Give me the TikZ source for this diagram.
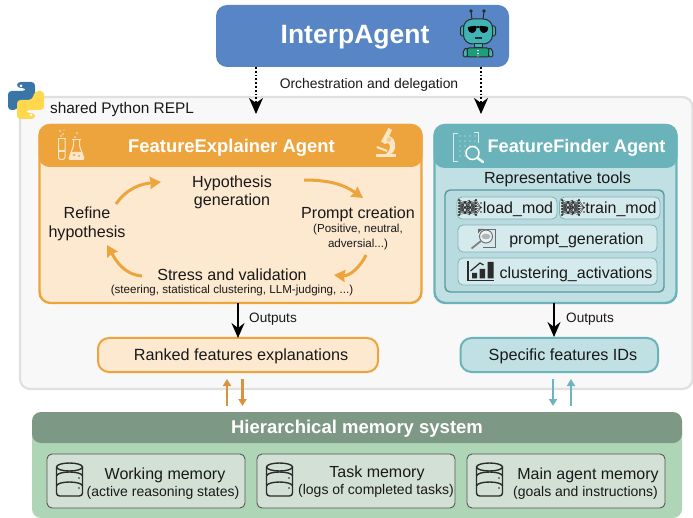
\documentclass[tikz,border=0pt]{standalone}
\usepackage{fontspec}
\setmainfont{Liberation Sans}
\usetikzlibrary{arrows.meta}
\definecolor{cblue}{HTML}{5885C5}
\definecolor{cpanel}{HTML}{F8F8F8}
\definecolor{cpanelb}{HTML}{E0E0E0}
\definecolor{corange}{HTML}{EEA43C}
\definecolor{corangel}{HTML}{FCE9D0}
\definecolor{cteal}{HTML}{6BB3BB}
\definecolor{ctealb}{HTML}{C0E0E3}
\definecolor{ctool}{HTML}{D5EAEC}
\definecolor{ctoolb}{HTML}{5B97A0}
\definecolor{cmemh}{HTML}{7D9885}
\definecolor{cmemb}{HTML}{AED6B6}
\definecolor{cmemi}{HTML}{D3E0D6}
\definecolor{cdark}{HTML}{2B2B2B}
\definecolor{ccream}{HTML}{FBE6C8}
\definecolor{cmarrowo}{HTML}{D9923E}
\definecolor{cmarrowt}{HTML}{6BB5C0}
\definecolor{crobot}{HTML}{3FB3B5}
\definecolor{crobotb}{HTML}{1E9E78}
\definecolor{cpyb}{HTML}{3A75A8}
\definecolor{cpyy}{HTML}{FFD84D}
\newcommand{\pbox}[7]{\pgfmathsetmacro\pw{#5-#3}\pgfmathsetmacro\ph{#6-#4}\node[#2,anchor=north west,inner sep=0pt,outer sep=0pt,minimum width=\pw pt,minimum height=\ph pt] (#1) at (#3,#4) {#7};}
\newcommand{\fsz}[1]{\fontsize{#1}{#1}\selectfont}
\newcommand{\dbicon}[2]{\begin{scope}[shift={(#1,#2)},draw=cdark,line width=1.4pt]
\draw (0,4) arc[x radius=13,y radius=4,start angle=180,end angle=-180];
\draw[rounded corners=3pt] (0,4) -- (0,33) -- (26,33) -- (26,4);
\draw (0,13) arc[x radius=13,y radius=4,start angle=180,end angle=360];
\draw (0,23) arc[x radius=13,y radius=4,start angle=180,end angle=360];
\fill[cdark] (22.5,15) circle (.9) (22.5,25) circle (.9) (22.5,33) circle (.01);
\end{scope}}
\newcommand{\nnicon}[2]{\begin{scope}[shift={(#1,#2)},line width=.3pt,draw=cdark]
\foreach \a in {2,7.5,13}{\foreach \b in {0,3,6,9,12,15}{\draw (1,\b) -- (7,\a) (12,\a) -- (18,\b);\draw (7,\a) -- (12,\b);}}
\foreach \b in {0,3,6,9,12,15}{\fill[cdark] (1,\b) circle (1.05) (18,\b) circle (1.05);\draw (18,\b) -- (23,7.5);}
\foreach \b in {3,7.5,12}{\fill[cdark] (23,\b) circle (.95);}
\foreach \a in {2,7.5,13}{\fill[cdark] (7,\a) circle (1.2) (12,\a) circle (1.2);}
\end{scope}}
\tikzset{
 x=1pt,y=-1pt,
 panel/.style={draw=cpanelb,fill=cpanel,line width=2.2pt,rounded corners=10pt},
 topbox/.style={fill=cblue,rounded corners=11pt},
 oouter/.style={draw=corange,fill=corangel,line width=2.4pt,rounded corners=11pt},
 ohead/.style={fill=corange,rounded corners=11pt},
 touter/.style={draw=cteal,fill=ctealb,line width=2.4pt,rounded corners=11pt},
 thead/.style={fill=cteal,rounded corners=11pt},
 toolsbox/.style={draw=ctoolb,fill=ctealb!90!cteal,line width=1.4pt,rounded corners=5pt},
 toolitem/.style={draw=ctoolb!75,fill=ctool,line width=.8pt,rounded corners=5pt},
 ooutput/.style={draw=corange,fill=corangel,line width=2pt,rounded corners=11pt},
 toutput/.style={draw=cteal,fill=ctealb,line width=2pt,rounded corners=11pt},
 memh/.style={fill=cmemh,rounded corners=9pt},
 memb/.style={fill=cmemb,rounded corners=9pt},
 memi/.style={draw=cdark!80,fill=cmemi,line width=.9pt,rounded corners=5pt},
 lbl/.style={inner sep=0pt,outer sep=0pt,text=black!90,align=center,yshift=-1.5pt},
 cyc/.style={line width=3pt,draw=corange,-{Stealth[length=11pt,width=12pt,inset=1pt]}},
 dotarrow/.style={line width=1.5pt,dash pattern=on 1.8pt off 2pt,-{Stealth[length=16pt,width=14pt,inset=5pt]}},
 outarrow/.style={line width=1.5pt,black,-{Stealth[length=15pt,width=13pt,inset=5pt]}},
 memo/.style={line width=2.2pt,draw=cmarrowo,-{Triangle[length=7pt,width=8pt]}},
 memt/.style={line width=2.2pt,draw=cmarrowt,-{Triangle[length=7pt,width=8pt]}},
}
\begin{document}
\begin{tikzpicture}
\useasboundingbox (0,0) rectangle (693,518);
% panel
\pbox{repl}{panel}{20}{97}{692.5}{389}{}
% top
\pbox{interp}{topbox}{216}{5}{509}{67}{}
\node[lbl,text=white,font=\bfseries\fsz{26.5}] (interpt) at (355,36) {InterpAgent};
% robot
\begin{scope}[draw=cdark,line width=1pt]
\draw (471,11) -- (472,20) (484,11) -- (483,20);
\fill[cdark] (471,11) circle (1.8) (484,11) circle (1.8);
\draw[fill=crobot,rounded corners=1.5pt] (460.5,26) rectangle (465,36) (491,26) rectangle (495.5,36);
\draw[fill=crobot,rounded corners=9pt] (463.5,19) rectangle (492.5,44);
\fill[black,rounded corners=2pt] (467,27) -- (476.5,25.5) -- (476,32) -- (470,33.5) -- cycle (489,27) -- (479.5,25.5) -- (480,32) -- (486,33.5) -- cycle (476,26) rectangle (480,28);
\fill[cdark] (474.5,37) rectangle (481.5,39);
\draw[fill=crobot] (474,44) rectangle (482,48);
\draw[fill=crobotb,rounded corners=2pt] (467,57) -- (467,48) -- (489,48) -- (489,57) -- cycle;
\draw[fill=crobot,rounded corners=1.5pt] (463,57) -- (463.5,50) -- (467,47.5) -- (467.5,57) -- cycle (493,57) -- (492.5,50) -- (489,47.5) -- (488.5,57) -- cycle;
\fill[white] (478,50.5) circle (.9) (478,53.5) circle (.9) (478,56) circle (.7);
\end{scope}
% orchestration
\node[lbl,font=\fsz{13.9}] (orch) at (369,83) {Orchestration and delegation};
\coordinate (d1) at (256,114);
\coordinate (d2) at (481,114);
\draw[dotarrow] (d1 |- interp.south) -- (d1);
\draw[dotarrow] (d2 |- interp.south) -- (d2);
% python logo
\begin{scope}[rounded corners=3.5pt]
\fill[cpyb] (17,82) -- (35,82) -- (35,101) -- (20,101) -- (17,110) -- (8,110) -- (8,91) -- (26,91) -- (26,88) -- (17,88) -- cycle;
\fill[cpyy,rotate around={180:(26,100.5)}] (17,82) -- (35,82) -- (35,101) -- (20,101) -- (17,110) -- (8,110) -- (8,91) -- (26,91) -- (26,88) -- (17,88) -- cycle;
\end{scope}
\fill[white] (21,86) circle (1.5) (31,115) circle (1.5);
\node[lbl,font=\fsz{15.4}] (repllabel) at (122,108) {shared Python REPL};
% explainer
\pbox{fe}{oouter}{39.5}{125}{421.5}{303}{}
\pbox{feh}{ohead}{38.5}{124}{422.5}{167}{}
\node[lbl,text=white,font=\bfseries\fsz{18.4}] (fet) at (231.5,146) {FeatureExplainer Agent};
% flasks
\begin{scope}[draw=ccream,line width=1pt]
\draw[rounded corners=2.5pt] (58.5,139) -- (58.5,159.5) -- (65,159.5) -- (65,139);
\fill[ccream] (59,150) rectangle (64.5,152);
\draw (57.5,139) -- (66,139);
\draw[rounded corners=1.5pt] (73.5,139.5) -- (73.5,146) -- (68.5,159.5) -- (84.5,159.5) -- (79.5,146) -- (79.5,139.5);
\draw (72,139.5) -- (81,139.5);
\fill[ccream] (71,152) -- (82,152) -- (84,159.5) -- (69,159.5) -- cycle;
\fill[corange] (74,155) circle (1.1) (79,156) circle (1);
\fill[ccream] (60,131) circle (.9) (63,134) circle (.9) (61,136) circle (.8) (77,133) circle (.9) (75,137) circle (.8) (64,130) circle (.7);
\end{scope}
% microscope
\begin{scope}[fill=ccream,draw=ccream]
\fill (388.5,128) -- (392,130) -- (389,136) .. controls (397,139) and (397,150) .. (391,154) -- (386,154) .. controls (391,150) and (391,145) .. (388,143) -- (385,144) -- (381,141.5) -- cycle;
\fill (375.5,154.5) rectangle (396,157.5);
\fill (377,146) -- (387.5,150) -- (387,152) -- (376.5,148) -- cycle;
\fill[ccream!60!corange] (389,139.5) circle (2.3);
\end{scope}
% cycle text
\node[lbl,font=\fsz{16.1},align=center] (hyp) at (232,191) {Hypothesis\\[2pt]generation};
\node[lbl,font=\fsz{16.1}] (pc) at (358,213) {Prompt creation};
\node[lbl,font=\fsz{11.6}] (pcs) at (358,235.5) {(Positive, neutral,\\[2.5pt]adversial...)};
\node[lbl,font=\fsz{16.1}] (ref) at (87,222.5) {Refine\\[2.5pt]hypothesis};
\node[lbl,font=\fsz{16.1}] (sv) at (232,273) {Stress and validation};
\node[lbl,font=\fsz{11.6}] (svs) at (232,289) {(steering, statistical clustering, LLM-judging, ...)};
\coordinate (c1a) at (116,204); \coordinate (c1b) at (161,182);
\coordinate (c2a) at (304,180); \coordinate (c2b) at (363,198);
\coordinate (c3a) at (366,255); \coordinate (c3b) at (334,275);
\coordinate (c4a) at (142,276); \coordinate (c4b) at (107,245);
\draw[cyc] (c1a) to[out=55,in=185] (c1b);
\draw[cyc] (c2a) to[out=0,in=145] (c2b);
\draw[cyc] (c3a) to[out=-115,in=-5] (c3b);
\draw[cyc] (c4a) to[out=175,in=-60] (c4b);
% finder
\pbox{ff}{touter}{434.5}{125}{676.5}{303}{}
\pbox{ffh}{thead}{433.5}{124}{677.5}{168}{}
\node[lbl,text=white,font=\bfseries\fsz{18.2}] (fft) at (576.5,146) {FeatureFinder Agent};
\begin{scope}[draw=ctealb!60!white,line width=.9pt]
\draw (458,133) -- (453.5,133) -- (453.5,161) -- (458,161);
\draw (474,132.5) -- (478.5,132.5) -- (478.5,143);
\foreach \xx in {460,465,470,475}{\foreach \yy in {136,141,146,151,156}{\fill[white!80!cteal] (\xx,\yy) circle (.7);}}
\draw[white,line width=1.5pt,fill=cteal] (472.5,153) circle (6.5);
\draw[white!90!cteal,line width=2.5pt,line cap=round] (477.5,158) -- (483,162);
\end{scope}
\node[lbl,font=\fsz{16.1}] (rt) at (557.5,178) {Representative tools};
\pbox{tools}{toolsbox}{445}{190}{664}{292}{}
\pbox{t1}{toolitem}{457}{197}{557}{219}{}
\pbox{t2}{toolitem}{559.5}{197}{660}{219}{}
\pbox{t3}{toolitem}{458}{225}{657}{252}{}
\pbox{t4}{toolitem}{458}{258}{657}{285}{}
\nnicon{458}{200}
\nnicon{561}{200}
\node[lbl,font=\fsz{16}] (t1t) at (518,208) {load\_mod};
\node[lbl,font=\fsz{16}] (t2t) at (621,208) {train\_mod};
\node[lbl,font=\fsz{16}] (t3t) at (576.5,239) {prompt\_generation};
\node[lbl,font=\fsz{16}] (t4t) at (576,272.5) {clustering\_activations};
% prompt icon
\begin{scope}[line width=.9pt,draw=cdark!70]
\draw (478,233) -- (478,229) -- (495.5,229) -- (495.5,247) -- (483,247);
\fill[cdark!70] (478,229) -- (483,229) -- (478,233) -- cycle;
\draw[fill=white!85!cteal] (486,236.5) circle (6.5);
\fill[cdark!35] (486,236.5) ellipse (4.5 and 2.8);
\draw[line width=1.8pt,draw=cdark!60] (481,241) -- (471.5,248.5);
\end{scope}
% chart icon
\begin{scope}[fill=cdark,draw=cdark]
\draw[line width=1.5pt] (468,261) -- (468,280.5) -- (494,280.5);
\fill (472,273) rectangle (477,278.5) (479.5,269) rectangle (485,278.5) (487.5,262) rectangle (493.5,278.5);
\draw[line width=1.2pt] (470.5,271) -- (480,263) -- (483.5,265);
\end{scope}
% outputs
\pbox{ranked}{ooutput}{98}{338}{378}{372}{}
\node[lbl,font=\fsz{16.2}] (rankedt) at (241,355) {Ranked features explanations};
\pbox{spec}{toutput}{460.5}{338}{658}{372}{}
\node[lbl,font=\fsz{16.2}] (spect) at (563,355) {Specific features IDs};
\draw[outarrow] (ranked.north |- fe.south) -- (ranked.north);
\coordinate (o2top) at (554,303);
\coordinate (o2bot) at (554,337);
\draw[outarrow] (o2top) -- (o2bot);
\node[lbl,font=\fsz{13.6}] (o1) at (273,318) {Outputs};
\node[lbl,font=\fsz{13.6}] (o2) at (590,318) {Outputs};
% memory
\pbox{mem}{memb}{32}{420}{682}{518}{}
\pbox{memhd}{memh}{32}{412}{682}{443}{}
\node[lbl,text=white,font=\bfseries\fsz{18.5}] (memt) at (357,427) {Hierarchical memory system};
\coordinate (a1) at (227,406); \coordinate (a1b) at (227,379);
\coordinate (a2) at (242.5,379); \coordinate (a2b) at (242.5,406);
\coordinate (a3) at (553,379); \coordinate (a3b) at (553,406);
\coordinate (a4) at (571,406); \coordinate (a4b) at (571,379);
\draw[memo] (a1) -- (a1b);
\draw[memo] (a2) -- (a2b);
\draw[memt] (a3) -- (a3b);
\draw[memt] (a4) -- (a4b);
\pbox{m1}{memi}{47}{454}{245}{508}{}
\pbox{m2}{memi}{257}{454}{455}{508}{}
\pbox{m3}{memi}{467}{454}{665}{508}{}
\dbicon{56.5}{463}
\dbicon{266.5}{463}
\dbicon{476.5}{463}
\node[lbl,font=\fsz{16}] (m1a) at (165,474) {Working memory};
\node[lbl,font=\fsz{14}] (m1b) at (163,491) {(active reasoning states)};
\node[lbl,font=\fsz{16}] (m2a) at (377,472) {Task memory};
\node[lbl,font=\fsz{14}] (m2b) at (376,489) {(logs of completed tasks)};
\node[lbl,font=\fsz{16}] (m3a) at (588,474) {Main agent memory};
\node[lbl,font=\fsz{14}] (m3b) at (585.5,491) {(goals and instructions)};
\end{tikzpicture}
\end{document}
